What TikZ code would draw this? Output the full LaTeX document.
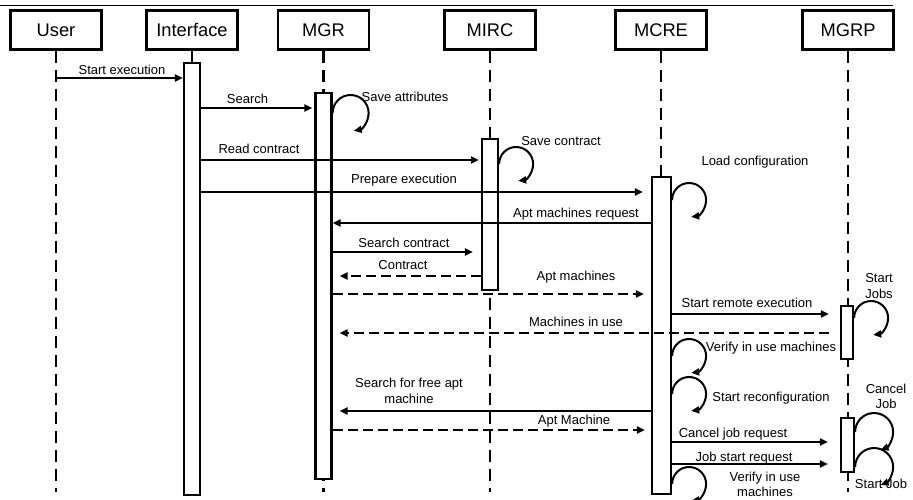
\documentclass[tikz,border=0pt]{standalone}
\usepackage{fontspec}
\setmainfont{Liberation Sans}
\usetikzlibrary{arrows.meta}
\begin{document}
\begin{tikzpicture}[x=1pt,y=-1pt,
  head/.style={draw, line width=2.2pt, minimum width=91pt, minimum height=39pt, inner sep=0pt, font=\fontsize{18.3}{20}\selectfont},
  act/.style={draw, fill=white, line width=2.2pt, inner sep=0pt, minimum width=16pt},
  life/.style={line width=2.1pt, dash pattern=on 12pt off 7pt},
  msg/.style={line width=2pt, -{Triangle[length=8pt,width=7pt]}},
  ret/.style={msg, dash pattern=on 10pt off 5pt},
  selfloop/.style={line width=2pt, -{Triangle[length=8pt,width=7pt]}},
  lbl/.style={inner sep=0pt, font=\fontsize{13}{15.5}\selectfont, align=center},
]
\useasboundingbox (0,0) rectangle (913,499);

% top rule
\coordinate (topL) at (0,5.5);
\coordinate (topR) at (893,5.5);
\draw[line width=1.3pt] (topL) -- (topR);

% headers
\node[head] (hU) at (56,30) {User};
\node[head] (hI) at (192,30) {Interface};
\node[head] (hG) at (323.5,30) {MGR};
\node[head] (hR) at (490,30) {MIRC};
\node[head] (hC) at (661,30) {MCRE};
\node[head] (hP) at (848,30) {MGRP};

% lifeline ends
\coordinate (eU) at (56,492);
\coordinate (eI) at (192,492);
\coordinate (eG) at (323.5,492);
\coordinate (eR) at (490,492);
\coordinate (eC) at (661,492);
\coordinate (eP) at (848,492);
\draw[life] (hU.south) -- (eU);
\draw[life] (hI.south) -- (eI);
\draw[life] (hG.south) -- (eG);
\draw[life] (hR.south) -- (eR);
\draw[life] (hC.south) -- (eC);
\draw[life] (hP.south) -- (eP);

% activation boxes
\node[act, minimum height=432pt] (aI) at (192,279) {};
\node[act, minimum height=386pt] (aG) at (323.5,286) {};
\node[act, minimum height=151pt] (aR) at (490,214.5) {};
\node[act, minimum width=19pt, minimum height=317pt] (aC) at (661.5,335.5) {};
\node[act, minimum width=12pt, minimum height=53pt] (aP1) at (847,332.5) {};
\node[act, minimum width=13pt, minimum height=54pt] (aP2) at (847.5,445) {};

% message rows
\coordinate (r1) at (0,78);
\coordinate (r2) at (0,108);
\coordinate (r3) at (0,160);
\coordinate (r4) at (0,192);
\coordinate (r5) at (0,223);
\coordinate (r6) at (0,252);
\coordinate (r7) at (0,276);
\coordinate (r8) at (0,294);
\coordinate (r9) at (0,314);
\coordinate (r10) at (0,333);
\coordinate (r11) at (0,411);
\coordinate (r12) at (0,430);
\coordinate (r13) at (0,442);
\coordinate (r14) at (0,464);

\draw[msg] (hU.south |- r1) -- (aI.west |- r1);
\draw[msg, shorten >=2pt] (aI.east |- r2) -- (aG.west |- r2);
\draw[msg, shorten >=2pt] (aI.east |- r3) -- (aR.west |- r3);
\draw[msg, shorten >=8pt] (aI.east |- r4) -- (aC.west |- r4);
\draw[msg] (aC.west |- r5) -- (aG.east |- r5);
\draw[msg, shorten >=8pt] (aG.east |- r6) -- (aR.west |- r6);
\draw[ret, shorten >=7pt] (aR.west |- r7) -- (aG.east |- r7);
\draw[ret, shorten >=7pt] (aG.east |- r8) -- (aC.west |- r8);
\draw[msg, shorten >=11pt] (aC.east |- r9) -- (aP1.west |- r9);
\draw[ret, shorten <=11pt, shorten >=7pt] (aP1.west |- r10) -- (aG.east |- r10);
\draw[msg, shorten >=7pt] (aC.west |- r11) -- (aG.east |- r11);
\draw[ret, shorten >=6pt] (aG.east |- r12) -- (aC.west |- r12);
\draw[msg, shorten >=12pt] (aC.east |- r13) -- (aP2.west |- r13);
\draw[msg, shorten >=12pt] (aC.east |- r14) -- (aP2.west |- r14);

% self loops
\coordinate (s1) at (0,113);
\coordinate (s2) at (0,164);
\coordinate (s3) at (0,200);
\coordinate (s4) at (0,318);
\coordinate (s5) at (0,356);
\coordinate (s6) at (0,394);
\coordinate (s7) at (0,432);
\coordinate (s8) at (0,467);
\coordinate (s9) at (0,484);
\draw[selfloop] (aG.east |- s1) arc[start angle=180, end angle=440, radius=18];
\draw[selfloop] (aR.east |- s2) arc[start angle=180, end angle=443, radius=17];
\draw[selfloop] (aC.east |- s3) arc[start angle=180, end angle=443, radius=17];
\draw[selfloop] (aP1.east |- s4) arc[start angle=180, end angle=443, radius=17];
\draw[selfloop] (aC.east |- s5) arc[start angle=180, end angle=443, radius=17];
\draw[selfloop] (aC.east |- s6) arc[start angle=180, end angle=443, radius=17];
\draw[selfloop] (aP2.east |- s7) arc[start angle=180, end angle=430, radius=19];
\draw[selfloop] (aP2.east |- s8) arc[start angle=180, end angle=430, radius=19];
\draw[selfloop] (aC.east |- s9) arc[start angle=180, end angle=443, radius=17];

% labels
\node[lbl, anchor=base] (t1) at (122,74.7) {Start execution};
\node[lbl, anchor=base] (t2) at (247.5,103.7) {Search};
\node[lbl, anchor=base] (t3) at (405,101.7) {Save attributes};
\node[lbl, anchor=base] (t4) at (259,153.7) {Read contract};
\node[lbl, anchor=base] (t5) at (404,183.7) {Prepare execution};
\node[lbl, anchor=base] (t6) at (561,145.7) {Save contract};
\node[lbl, anchor=base] (t7) at (755,165.7) {Load configuration};
\node[lbl, anchor=base] (t8) at (576,217.7) {Apt machines request};
\node[lbl, anchor=base] (t9) at (404,247.7) {Search contract};
\node[lbl, anchor=base] (t10) at (403,269.7) {Contract};
\node[lbl, anchor=base] (t11) at (576,280.7) {Apt machines};
\node[lbl, anchor=base] (t12) at (747,307.7) {Start remote execution};
\node[lbl, anchor=base] (t13) at (576,326.7) {Machines in use};
\node[lbl, anchor=base] (t14) at (771,351.7) {Verify in use machines};
\node[lbl, anchor=base] (t15) at (771,401.7) {Start reconfiguration};
\node[lbl, anchor=base] (t16) at (574,424.7) {Apt Machine};
\node[lbl, anchor=base] (t17) at (733,437.7) {Cancel job request};
\node[lbl, anchor=base] (t18) at (744,461.7) {Job start request};
\node[lbl, anchor=base] (t19) at (881,488.7) {Start Job};
\node[lbl] (t20) at (879,286) {Start\\Jobs};
\node[lbl] (t21) at (886,396.5) {Cancel\\Job};
\node[lbl] (t22) at (409,391) {Search for free apt\\machine};
\node[lbl] (t23) at (765,484.5) {Verify in use\\machines};
\end{tikzpicture}
\end{document}
